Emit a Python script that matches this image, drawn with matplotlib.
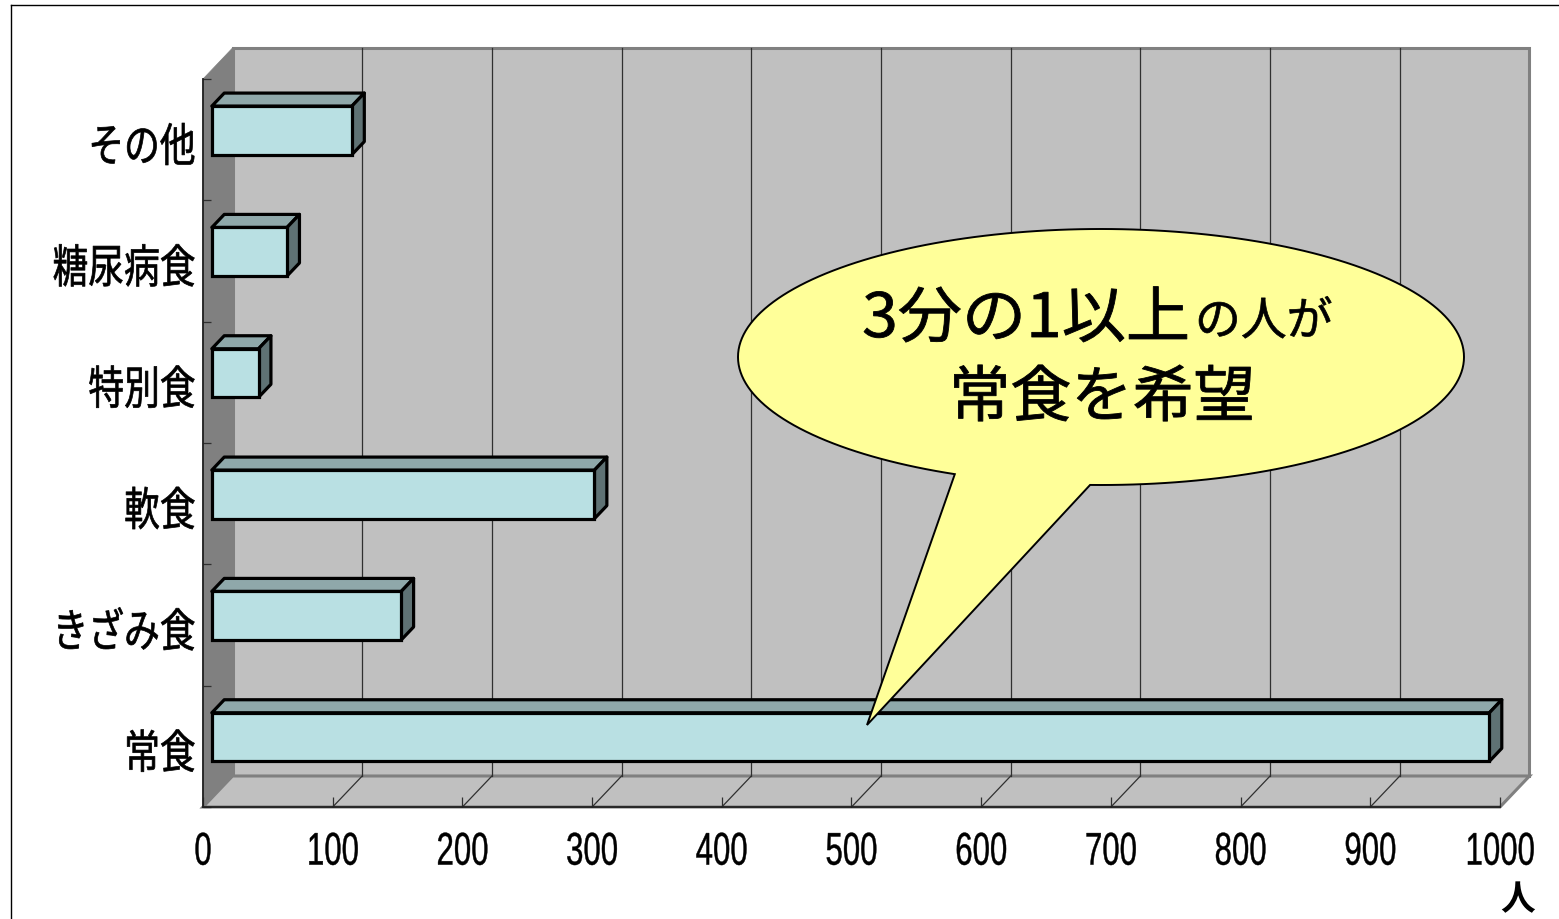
import matplotlib
matplotlib.use('Agg')
import matplotlib.pyplot as plt
from matplotlib.lines import Line2D
from matplotlib.patches import Polygon
from matplotlib.patheffects import AbstractPathEffect
from matplotlib.transforms import Affine2D
import numpy as np

categories = ['常食', 'きざみ食', '軟食', '特別食', '糖尿病食', 'その他']
counts = [985, 146, 295, 36, 58, 108]
xticks = [0, 100, 200, 300, 400, 500, 600, 700, 800, 900, 1000]

W, H = 1559, 920
JP = 'Noto Sans CJK JP'
plt.rcParams['font.family'] = [JP, 'DejaVu Sans']


# the reference type is a condensed face, none is installed so squeeze the glyphs
class Squeeze(AbstractPathEffect):
    def __init__(self, sx, anchor='center', dy=0, weight=0.0):
        super().__init__()
        self.sx, self.anchor, self.dy, self.weight = sx, anchor, dy, weight

    def draw_path(self, renderer, gc, tpath, affine, rgbFace=None):
        ext = tpath.get_extents()
        xa = {'left': ext.x0, 'right': ext.x1, 'center': (ext.x0 + ext.x1) / 2}[self.anchor]
        a = Affine2D().translate(-xa, 0).scale(self.sx, 1).translate(xa, 0) + affine
        a = a + Affine2D().translate(0, self.dy)
        gc0 = renderer.new_gc()
        gc0.copy_properties(gc)
        gc0.set_linewidth(self.weight)
        gc0.set_foreground(rgbFace)
        renderer.draw_path(gc0, tpath, a, rgbFace)
        gc0.restore()


fig = plt.figure(figsize=(W / 100, H / 100), dpi=100, facecolor='white')

# front plane of the fake 3D box, in pixels from the top left
left, right, top, bottom = 203, 1500, 80, 808
ax = fig.add_axes([left / W, 1 - bottom / H, (right - left) / W, (bottom - top) / H])
ax.set_xlim(0, 1000)
ax.set_ylim(0, 6)
ax.patch.set_alpha(0)

# depth of the box in data units
DX = 29.5 / ((right - left) / 1000)
DY = 31 / ((bottom - top) / 6)
GREY = '#808080'

# walls
ax.add_patch(Polygon([(DX, DY), (1000 + DX, DY), (1000 + DX, 6 + DY), (DX, 6 + DY)],
                     fc='#C0C0C0', ec=GREY, lw=2.2, clip_on=False, zorder=1))
ax.add_patch(Polygon([(0, 0), (DX, DY), (DX, 6 + DY), (0, 6)],
                     fc=GREY, ec=GREY, lw=0.5, clip_on=False, zorder=1.5))
ax.add_patch(Polygon([(0, 0), (1000, 0), (1000 + DX, DY), (DX, DY)],
                     fc='#C0C0C0', ec=GREY, lw=2.2, clip_on=False, zorder=1.2))

# grid on back wall and floor
for x in xticks[1:-1]:
    ax.plot([x + DX, x + DX], [DY, 6 + DY], color='#303030', lw=0.9, clip_on=False, zorder=2)
    ax.plot([x, x + DX], [0, DY], color='#303030', lw=0.9, clip_on=False, zorder=2)

# bars: front face at depth 0.3, back at 0.72
d0, d1 = 0.3, 0.72
bar_h = 0.4
ypos = np.arange(len(categories)) + 0.5
x0, y0 = d0 * DX, ypos + d0 * DY - bar_h / 2
ax.barh(y0 + bar_h / 2, counts, height=bar_h, left=x0, color='#B9E0E3',
        edgecolor='black', linewidth=2.3, zorder=4, clip_on=False)
shift_x, shift_y = (d1 - d0) * DX, (d1 - d0) * DY
for v, y in zip(counts, y0):
    xe = x0 + v
    ax.add_patch(Polygon([(x0, y + bar_h), (xe, y + bar_h), (xe + shift_x, y + bar_h + shift_y),
                          (x0 + shift_x, y + bar_h + shift_y)],
                         fc='#8FA8AA', ec='black', lw=2.3, joinstyle='round', clip_on=False, zorder=3))
    ax.add_patch(Polygon([(xe, y), (xe + shift_x, y + shift_y), (xe + shift_x, y + bar_h + shift_y),
                          (xe, y + bar_h)],
                         fc='#5F7274', ec='black', lw=2.3, joinstyle='round', clip_on=False, zorder=3))

# axes
for s in ('top', 'right'):
    ax.spines[s].set_visible(False)
for s in ('left', 'bottom'):
    ax.spines[s].set_color('#202020')
    ax.spines[s].set_linewidth(1.3)
    ax.spines[s].set_zorder(5)

ax.set_xticks(xticks)
ax.set_xticklabels([str(x) for x in xticks], family=['Liberation Sans', JP], fontsize=33)
ax.tick_params(axis='x', direction='in', length=7, width=0.9, color='#303030', pad=17)
for lab in ax.get_xticklabels():
    lab.set_path_effects([Squeeze(0.68, 'center', weight=0.3)])

ax.set_yticks(ypos)
ax.set_yticklabels(categories, fontsize=33)
ax.set_yticks(range(7), minor=True)
ax.tick_params(axis='y', which='major', length=0, pad=5)
ax.tick_params(axis='y', which='minor', direction='in', length=6, width=0.9, color='#303030')
for lab in ax.get_yticklabels():
    lab.set_path_effects([Squeeze(0.78, 'right', dy=-3, weight=0.5)])

# overlay in pixels for the callout and outer frame
ov = fig.add_axes([0, 0, 1, 1], zorder=10)
ov.set_xlim(0, W)
ov.set_ylim(H, 0)
ov.axis('off')

cx, cy, rx, ry = 1101, 358, 363, 128
tail_a = (955, 475)
tail_tip = (867, 726)
tail_b = (1090, 487)
t0 = np.arctan2((tail_a[1] - cy) / ry, (tail_a[0] - cx) / rx)
t1 = np.arctan2((tail_b[1] - cy) / ry, (tail_b[0] - cx) / rx) + 2 * np.pi
t = np.linspace(t0, t1, 200)
outline = np.column_stack([cx + rx * np.cos(t), cy + ry * np.sin(t)])
outline = np.vstack([outline, tail_tip])
ov.add_patch(Polygon(outline, closed=True, fc='#FFFF99', ec='black', lw=1.4, joinstyle='miter'))

heavy = Squeeze(1.05, 'right', weight=0.6)
t1_txt = ov.text(1190, 338, '3分の1以上', fontsize=44, ha='right', va='baseline', color='black')
t1_txt.set_path_effects([heavy])
t2_txt = ov.text(1195, 336, 'の人が', fontsize=33, ha='left', va='baseline', color='black')
t2_txt.set_path_effects([Squeeze(1.0, 'left', weight=0.5)])
t3_txt = ov.text(1102, 400, '常食を希望', fontsize=44, ha='center', va='center', color='black')
t3_txt.set_path_effects([Squeeze(1.0, 'center', weight=0.6)])
ov.text(1518, 900, '人', fontsize=25, ha='center', va='center', color='black', fontweight='bold')

# outer frame runs off the right and bottom of the picture
fig.add_artist(Line2D([10.5 / W, 10.5 / W], [0, 1 - 5.5 / H], color='black', lw=1))
fig.add_artist(Line2D([10.5 / W, 1], [1 - 5.5 / H, 1 - 5.5 / H], color='black', lw=1))

fig.savefig('out.png', dpi=100)
